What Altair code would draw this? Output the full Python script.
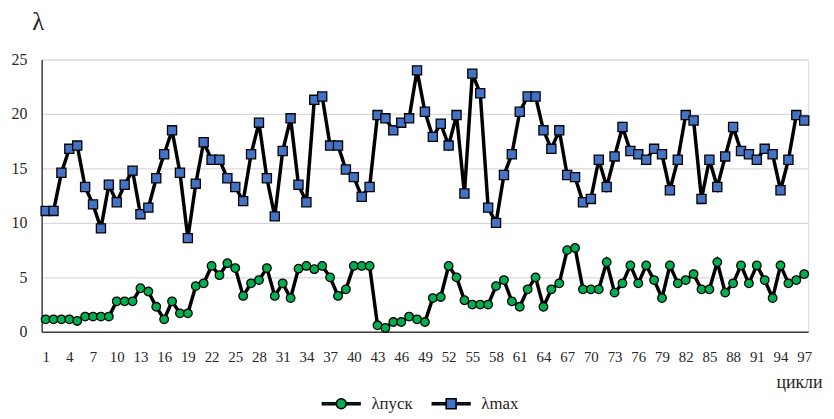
import altair as alt
import pandas as pd

cycles = list(range(1, 98))
series_names = ["λпуск", "λmax"]

lam_start = [
    1.15, 1.15, 1.15, 1.15, 1.0, 1.4, 1.4, 1.4, 1.4, 2.8,
    2.8, 2.8, 4.0, 3.7, 2.3, 1.15, 2.8, 1.7, 1.7, 4.2,
    4.45, 6.05, 5.2, 6.3, 5.85, 3.3, 4.45, 4.75, 5.85, 3.3,
    4.45, 3.1, 5.8, 6.05, 5.75, 6.05, 5.0, 3.3, 3.9, 6.05,
    6.05, 6.05, 0.6, 0.36, 0.9, 0.9, 1.4, 1.15, 0.9, 3.1,
    3.2, 6.05, 5.0, 2.9, 2.5, 2.5, 2.5, 4.2, 4.75, 2.8,
    2.3, 3.9, 5.0, 2.3, 3.9, 4.45, 7.5, 7.7, 3.9, 3.9,
    3.9, 6.4, 3.6, 4.45, 6.1, 4.45, 6.1, 4.75, 3.1, 6.1,
    4.45, 4.75, 5.3, 3.9, 3.9, 6.4, 3.6, 4.45, 6.1, 4.45,
    6.1, 4.75, 3.1, 6.1, 4.45, 4.75, 5.3,
]

lam_max = [
    11.1, 11.1, 14.6, 16.8, 17.1, 13.3, 11.7, 9.5, 13.5, 11.9,
    13.5, 14.8, 10.8, 11.4, 14.1, 16.3, 18.5, 14.6, 8.6, 13.6,
    17.4, 15.8, 15.8, 14.1, 13.3, 12.0, 16.3, 19.2, 14.1, 10.6,
    16.6, 19.6, 13.5, 11.9, 21.3, 21.6, 17.1, 17.1, 14.9, 14.2,
    12.4, 13.3, 19.9, 19.6, 18.5, 19.2, 19.6, 24.0, 20.2, 17.9,
    19.1, 17.1, 19.9, 12.7, 23.7, 21.9, 11.4, 10.0, 14.4, 16.3,
    20.2, 21.6, 21.6, 18.5, 16.8, 18.5, 14.4, 14.2, 11.9, 12.2,
    15.8, 13.3, 16.1, 18.8, 16.6, 16.3, 15.8, 16.8, 16.3, 13.0,
    15.8, 19.9, 19.4, 12.2, 15.8, 13.3, 16.1, 18.8, 16.6, 16.3,
    15.8, 16.8, 16.3, 13.0, 15.8, 19.9, 19.4,
]

x_ticks = list(range(1, 98, 3))
y_ticks = [0, 5, 10, 15, 20, 25]
colors = ["#00B050", "#4472C4"]

df = pd.concat([
    pd.DataFrame({"cycle": cycles, "value": lam_start, "series": series_names[0]}),
    pd.DataFrame({"cycle": cycles, "value": lam_max, "series": series_names[1]}),
])

FONT = "Liberation Serif"

x_enc = alt.X(
    "cycle:Q",
    scale=alt.Scale(domain=[0.5, 97.5], nice=False, zero=False),
    axis=alt.Axis(
        values=x_ticks, grid=False, ticks=False, labelPadding=18,
        labelFont=FONT, labelFontSize=15, labelColor="#262626",
        labelOverlap=False, labelFlush=False,
        domainColor="#404040", domainWidth=1.5,
        title="цикли", titleFont=FONT, titleFontSize=18, titleFontWeight="normal",
        titleColor="#262626", titleAlign="right", titleAnchor="end",
        titleX=788, titleY=56, titleBaseline="alphabetic",
    ),
)
y_enc = alt.Y(
    "value:Q",
    scale=alt.Scale(domain=[0, 25], nice=False),
    axis=alt.Axis(
        values=y_ticks, grid=True, gridColor="#d9d9d9", gridWidth=1.2,
        ticks=False, labelPadding=15,
        labelFont=FONT, labelFontSize=16, labelColor="#262626",
        domainColor="#404040", domainWidth=1.5,
        title="λ", titleAngle=0, titleFont=FONT, titleFontSize=25,
        titleFontWeight="normal", titleColor="#262626",
        titleX=-4, titleY=-30, titleAlign="center", titleBaseline="alphabetic",
    ),
)

base = alt.Chart(df).encode(x=x_enc, y=y_enc, detail="series:N")

lines = base.mark_line(color="black", strokeWidth=3.5)

circles = base.transform_filter(
    alt.datum.series == series_names[0]
).mark_point(shape="circle", filled=True, fill=colors[0], stroke="black",
             strokeWidth=1.3, size=75, opacity=1)

squares = base.transform_filter(
    alt.datum.series == series_names[1]
).mark_point(shape="square", filled=True, fill=colors[1], stroke="black",
             strokeWidth=1.3, size=85, opacity=1)

bars = "M-3.8,-0.18H-1V0.18H-3.8Z M1,-0.18H3.8V0.18H1Z "
circle_path = bars + "M-1,0A1,1 0 1,0 1,0A1,1 0 1,0 -1,0Z"
square_path = bars + "M-1,-1H1V1H-1Z"

legend = alt.Legend(
    title=None, orient="none", direction="horizontal",
    legendX=280, legendY=339,
    labelFont=FONT, labelFontSize=17, labelColor="#262626",
    symbolSize=100, symbolStrokeColor="black", symbolStrokeWidth=1.6,
    symbolOpacity=1, labelOffset=22, symbolOffset=14, columnPadding=16,
)

legend_layer = base.transform_filter("false").mark_point(
    filled=True, strokeWidth=1.6, opacity=1
).encode(
    shape=alt.Shape("series:N", scale=alt.Scale(domain=series_names,
                                                range=[circle_path, square_path]),
                    legend=legend),
    fill=alt.Fill("series:N", scale=alt.Scale(domain=series_names, range=colors),
                  legend=legend),
    stroke=alt.Stroke("series:N", scale=alt.Scale(domain=series_names,
                                                  range=["black", "black"]),
                      legend=legend),
)

chart = alt.layer(lines, circles, squares, legend_layer).properties(
    width=774, height=275,
    padding={"left": 34, "top": 50, "right": 18, "bottom": 85},
    autosize=alt.AutoSizeParams(type="none"),
).configure_view(stroke=None).configure(background="white")

chart.save("out.html", embed_options={"renderer": "svg", "actions": False})
